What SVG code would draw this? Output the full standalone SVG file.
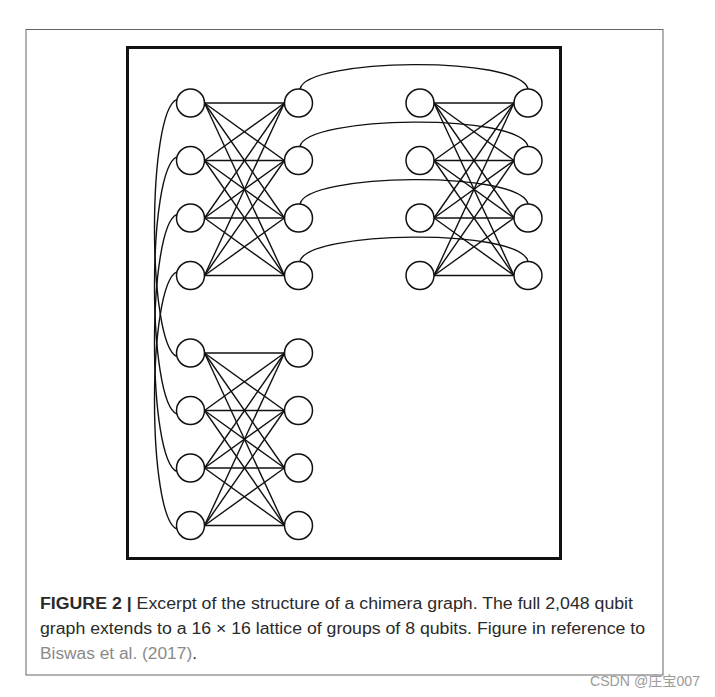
<svg xmlns="http://www.w3.org/2000/svg" width="715" height="697" viewBox="0 0 715 697">
<style>
.edge{stroke:#111;stroke-width:1.4;fill:none}
.node{fill:#fff;stroke:#111;stroke-width:1.5}
.cap{font-family:"Liberation Sans",Arial,sans-serif;font-size:16px;fill:#2a2a2a}
.b{font-weight:bold}
.ref{fill:#8a8a8a}
.wm{font-family:"Liberation Sans","Noto Sans CJK SC",sans-serif;font-size:14px;fill:#9a9a9a}
</style>
<rect x="0" y="0" width="715" height="697" fill="#fff"/>
<rect x="26" y="29.5" width="637" height="645.5" fill="none" stroke="#666" stroke-width="1"/>
<rect x="127.5" y="47.5" width="433" height="511" fill="none" stroke="#111" stroke-width="3"/>
<g id="connectors">
<g id="k44-top-left">
<line class="edge" x1="204.5" y1="103" x2="284.5" y2="103"/>
<line class="edge" x1="204.5" y1="103" x2="284.5" y2="160.5"/>
<line class="edge" x1="204.5" y1="103" x2="284.5" y2="218"/>
<line class="edge" x1="204.5" y1="103" x2="284.5" y2="275.5"/>
<line class="edge" x1="204.5" y1="160.5" x2="284.5" y2="103"/>
<line class="edge" x1="204.5" y1="160.5" x2="284.5" y2="160.5"/>
<line class="edge" x1="204.5" y1="160.5" x2="284.5" y2="218"/>
<line class="edge" x1="204.5" y1="160.5" x2="284.5" y2="275.5"/>
<line class="edge" x1="204.5" y1="218" x2="284.5" y2="103"/>
<line class="edge" x1="204.5" y1="218" x2="284.5" y2="160.5"/>
<line class="edge" x1="204.5" y1="218" x2="284.5" y2="218"/>
<line class="edge" x1="204.5" y1="218" x2="284.5" y2="275.5"/>
<line class="edge" x1="204.5" y1="275.5" x2="284.5" y2="103"/>
<line class="edge" x1="204.5" y1="275.5" x2="284.5" y2="160.5"/>
<line class="edge" x1="204.5" y1="275.5" x2="284.5" y2="218"/>
<line class="edge" x1="204.5" y1="275.5" x2="284.5" y2="275.5"/>
</g>
<g id="k44-top-right">
<line class="edge" x1="434" y1="103" x2="514" y2="103"/>
<line class="edge" x1="434" y1="103" x2="514" y2="160.5"/>
<line class="edge" x1="434" y1="103" x2="514" y2="218"/>
<line class="edge" x1="434" y1="103" x2="514" y2="275.5"/>
<line class="edge" x1="434" y1="160.5" x2="514" y2="103"/>
<line class="edge" x1="434" y1="160.5" x2="514" y2="160.5"/>
<line class="edge" x1="434" y1="160.5" x2="514" y2="218"/>
<line class="edge" x1="434" y1="160.5" x2="514" y2="275.5"/>
<line class="edge" x1="434" y1="218" x2="514" y2="103"/>
<line class="edge" x1="434" y1="218" x2="514" y2="160.5"/>
<line class="edge" x1="434" y1="218" x2="514" y2="218"/>
<line class="edge" x1="434" y1="218" x2="514" y2="275.5"/>
<line class="edge" x1="434" y1="275.5" x2="514" y2="103"/>
<line class="edge" x1="434" y1="275.5" x2="514" y2="160.5"/>
<line class="edge" x1="434" y1="275.5" x2="514" y2="218"/>
<line class="edge" x1="434" y1="275.5" x2="514" y2="275.5"/>
</g>
<g id="k44-bottom-left">
<line class="edge" x1="204.5" y1="353" x2="284.5" y2="353"/>
<line class="edge" x1="204.5" y1="353" x2="284.5" y2="410.5"/>
<line class="edge" x1="204.5" y1="353" x2="284.5" y2="468"/>
<line class="edge" x1="204.5" y1="353" x2="284.5" y2="525.5"/>
<line class="edge" x1="204.5" y1="410.5" x2="284.5" y2="353"/>
<line class="edge" x1="204.5" y1="410.5" x2="284.5" y2="410.5"/>
<line class="edge" x1="204.5" y1="410.5" x2="284.5" y2="468"/>
<line class="edge" x1="204.5" y1="410.5" x2="284.5" y2="525.5"/>
<line class="edge" x1="204.5" y1="468" x2="284.5" y2="353"/>
<line class="edge" x1="204.5" y1="468" x2="284.5" y2="410.5"/>
<line class="edge" x1="204.5" y1="468" x2="284.5" y2="468"/>
<line class="edge" x1="204.5" y1="468" x2="284.5" y2="525.5"/>
<line class="edge" x1="204.5" y1="525.5" x2="284.5" y2="353"/>
<line class="edge" x1="204.5" y1="525.5" x2="284.5" y2="410.5"/>
<line class="edge" x1="204.5" y1="525.5" x2="284.5" y2="468"/>
<line class="edge" x1="204.5" y1="525.5" x2="284.5" y2="525.5"/>
</g>
<g id="vertical-couplers">
<path class="edge" d="M177,99.4 C147,111 147,345 177,356.6"/>
<path class="edge" d="M177,156.9 C147,168.5 147,402.5 177,414.1"/>
<path class="edge" d="M177,214.4 C147,226 147,460 177,471.6"/>
<path class="edge" d="M177,271.9 C147,283.5 147,517.5 177,529.1"/>
</g>
<g id="horizontal-couplers">
<path class="edge" d="M300,89 C306,58 520,55 528,89"/>
<path class="edge" d="M300,146.5 C306,115.5 520,112.5 528,146.5"/>
<path class="edge" d="M300,204 C306,173 520,170 528,204"/>
<path class="edge" d="M300,261.5 C306,230.5 520,227.5 528,261.5"/>
</g>
</g>
<g id="n-tl-a1"><circle class="node" cx="190.5" cy="103" r="14"/></g>
<g id="n-tl-a2"><circle class="node" cx="190.5" cy="160.5" r="14"/></g>
<g id="n-tl-a3"><circle class="node" cx="190.5" cy="218" r="14"/></g>
<g id="n-tl-a4"><circle class="node" cx="190.5" cy="275.5" r="14"/></g>
<g id="n-tl-b1"><circle class="node" cx="298.5" cy="103" r="14"/></g>
<g id="n-tl-b2"><circle class="node" cx="298.5" cy="160.5" r="14"/></g>
<g id="n-tl-b3"><circle class="node" cx="298.5" cy="218" r="14"/></g>
<g id="n-tl-b4"><circle class="node" cx="298.5" cy="275.5" r="14"/></g>
<g id="n-tr-a1"><circle class="node" cx="420" cy="103" r="14"/></g>
<g id="n-tr-a2"><circle class="node" cx="420" cy="160.5" r="14"/></g>
<g id="n-tr-a3"><circle class="node" cx="420" cy="218" r="14"/></g>
<g id="n-tr-a4"><circle class="node" cx="420" cy="275.5" r="14"/></g>
<g id="n-tr-b1"><circle class="node" cx="528" cy="103" r="14"/></g>
<g id="n-tr-b2"><circle class="node" cx="528" cy="160.5" r="14"/></g>
<g id="n-tr-b3"><circle class="node" cx="528" cy="218" r="14"/></g>
<g id="n-tr-b4"><circle class="node" cx="528" cy="275.5" r="14"/></g>
<g id="n-bl-a1"><circle class="node" cx="190.5" cy="353" r="14"/></g>
<g id="n-bl-a2"><circle class="node" cx="190.5" cy="410.5" r="14"/></g>
<g id="n-bl-a3"><circle class="node" cx="190.5" cy="468" r="14"/></g>
<g id="n-bl-a4"><circle class="node" cx="190.5" cy="525.5" r="14"/></g>
<g id="n-bl-b1"><circle class="node" cx="298.5" cy="353" r="14"/></g>
<g id="n-bl-b2"><circle class="node" cx="298.5" cy="410.5" r="14"/></g>
<g id="n-bl-b3"><circle class="node" cx="298.5" cy="468" r="14"/></g>
<g id="n-bl-b4"><circle class="node" cx="298.5" cy="525.5" r="14"/></g>
<g id="caption">
<text class="cap" x="40" y="609" textLength="593" lengthAdjust="spacingAndGlyphs"><tspan class="b">FIGURE 2 |</tspan> Excerpt of the structure of a chimera graph. The full 2,048 qubit</text>
<text class="cap" x="40" y="634" textLength="605" lengthAdjust="spacingAndGlyphs">graph extends to a 16 × 16 lattice of groups of 8 qubits. Figure in reference to</text>
<text class="cap" x="40" y="659" textLength="157" lengthAdjust="spacingAndGlyphs"><tspan class="ref">Biswas et al. (2017)</tspan>.</text>
</g>
<text class="wm" x="590" y="686" textLength="110" lengthAdjust="spacingAndGlyphs">CSDN @庄宝007</text>
</svg>
